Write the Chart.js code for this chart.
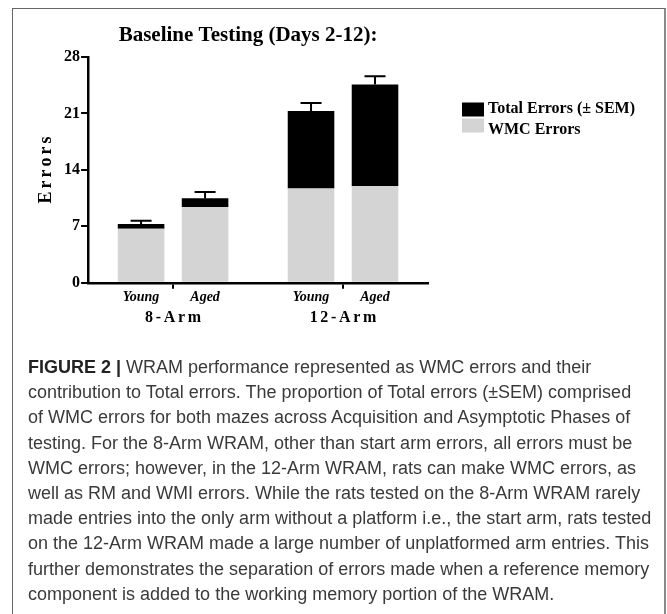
<!DOCTYPE html>
<html lang="en">
<head>
	<meta charset="UTF-8">
	<script src="https://cdn.jsdelivr.net/npm/chart.js"></script>
	<title>Baseline Testing (Days 2-12)</title>
	<style>
		body { margin: 0; background: #fff; }
		.frame { position: absolute; left: 12px; top: 8px; width: 651px; height: 620px; border-top: 1px solid #666; border-left: 1px solid #666; border-right: 2px solid #8a8a8a; }
		#chartBox { position: absolute; left: 13px; top: 9px; width: 640px; height: 350px; }
		.caption { position: absolute; left: 28px; top: 355px; font-family: "Liberation Sans", Arial, sans-serif; font-size: 18px; line-height: 25.2px; color: #3a3a3a; white-space: nowrap; }
		.caption b { color: #222; }
	</style>
</head>
<body>
	<div class="frame"></div>
	<div id="chartBox"><canvas id="myChart" width="640" height="350"></canvas></div>
	<div class="caption">
		<b>FIGURE 2 |</b> WRAM performance represented as WMC errors and their<br>
		contribution to Total errors. The proportion of Total errors (±SEM) comprised<br>
		of WMC errors for both mazes across Acquisition and Asymptotic Phases of<br>
		testing. For the 8-Arm WRAM, other than start arm errors, all errors must be<br>
		WMC errors; however, in the 12-Arm WRAM, rats can make WMC errors, as<br>
		well as RM and WMI errors. While the rats tested on the 8-Arm WRAM rarely<br>
		made entries into the only arm without a platform i.e., the start arm, rats tested<br>
		on the 12-Arm WRAM made a large number of unplatformed arm entries. This<br>
		further demonstrates the separation of errors made when a reference memory<br>
		component is added to the working memory portion of the WRAM.
	</div>
	<script>
		// values
		const mazes = ['8-Arm', '12-Arm'];
		const groups = ['Young', 'Aged'];
		const wmcYoung = [6.7, 11.7];
		const wmcAged = [9.4, 12.0];
		const totalYoung = [7.3, 21.3];
		const totalAged = [10.5, 24.6];
		const semYoung = [0.4, 1.0];
		const semAged = [0.75, 1.0];
		const yTicks = [0, 7, 14, 21, 28];

		const serif = "'Liberation Serif', 'Times New Roman', serif";
		const grey = '#d4d4d4';
		const gap = '\u2006';

		const errorBars = {
			id: 'errorBars',
			afterDatasetsDraw(chart) {
				const ctx = chart.ctx, y = chart.scales.y;
				[[1, totalYoung, semYoung], [3, totalAged, semAged]].forEach(([di, totals, sems]) => {
					chart.getDatasetMeta(di).data.forEach((bar, i) => {
						const top = y.getPixelForValue(totals[i]);
						const cap = y.getPixelForValue(totals[i] + sems[i]);
						ctx.save();
						ctx.strokeStyle = '#000';
						ctx.lineWidth = 2;
						ctx.beginPath();
						ctx.moveTo(bar.x, top);
						ctx.lineTo(bar.x, cap);
						ctx.moveTo(bar.x - 10.5, cap);
						ctx.lineTo(bar.x + 10.5, cap);
						ctx.stroke();
						ctx.restore();
					});
				});
			}
		};

		const extras = {
			id: 'extras',
			afterDraw(chart) {
				const ctx = chart.ctx, area = chart.chartArea;
				ctx.save();
				ctx.fillStyle = '#000';
				// title
				ctx.font = 'bold 21px ' + serif;
				ctx.textAlign = 'center';
				ctx.textBaseline = 'alphabetic';
				ctx.fillText('Baseline Testing (Days 2-12):', (area.left + area.right) / 2 - 10, 32);
				// Young / Aged under each bar
				ctx.font = 'italic bold 14px ' + serif;
				ctx.textBaseline = 'middle';
				[0, 2].forEach((di, g) => {
					chart.getDatasetMeta(di).data.forEach(bar => {
						ctx.fillText(groups[g], bar.x, chart.scales.x.top + 15);
					});
				});
				// legend
				const items = [chart.data.datasets[1], chart.data.datasets[0]];
				ctx.font = 'bold 16px ' + serif;
				ctx.textAlign = 'left';
				ctx.textBaseline = 'alphabetic';
				items.forEach((ds, i) => {
					ctx.fillStyle = ds.backgroundColor;
					ctx.fillRect(area.right + 34, 93.5 + i * 16, 22, 14);
					ctx.fillStyle = '#000';
					ctx.fillText(ds.label, area.right + 60, 104 + i * 21);
				});
				ctx.restore();
			}
		};

		const ctx = document.getElementById('myChart').getContext('2d');
		new Chart(ctx, {
			type: 'bar',
			data: {
				labels: mazes,
				datasets: [
					{ label: 'WMC Errors', data: wmcYoung, backgroundColor: grey, stack: 'young' },
					{ label: 'Total Errors (± SEM)', data: totalYoung.map((t, i) => t - wmcYoung[i]), backgroundColor: '#000', stack: 'young' },
					{ label: 'WMC Errors', data: wmcAged, backgroundColor: grey, stack: 'aged' },
					{ label: 'Total Errors (± SEM)', data: totalAged.map((t, i) => t - wmcAged[i]), backgroundColor: '#000', stack: 'aged' }
				]
			},
			options: {
				responsive: false,
				animation: false,
				categoryPercentage: 0.753,
				barPercentage: 0.728,
				layout: { padding: { top: 48, left: 23, right: 225, bottom: 13 } },
				plugins: { legend: { display: false }, tooltip: { enabled: false } },
				scales: {
					x: {
						grid: { offset: false, drawOnChartArea: false, tickLength: 6, color: '#000', lineWidth: 2 },
						border: { color: '#000', width: 2.5 },
						ticks: {
							color: '#000', padding: 19,
							font: { family: serif, size: 16, weight: 'bold' },
							callback: function (v) { return this.getLabelForValue(v).split('').join(gap); }
						}
					},
					y: {
						stacked: true,
						min: 0, max: 28,
						afterBuildTicks: axis => { axis.ticks = yTicks.map(v => ({ value: v })); },
						grid: { drawOnChartArea: false, tickLength: 7, color: '#000', lineWidth: 2 },
						border: { color: '#000', width: 2.5 },
						ticks: { color: '#000', padding: 1, font: { family: serif, size: 16, weight: 'bold' } },
						title: {
							display: true, text: 'Errors'.split('').join(gap), color: '#000',
							font: { family: serif, size: 18, weight: 'bold' },
							padding: { top: 0, bottom: 5.5 }
						}
					}
				}
			},
			plugins: [errorBars, extras]
		});
	</script>
</body>
</html>
